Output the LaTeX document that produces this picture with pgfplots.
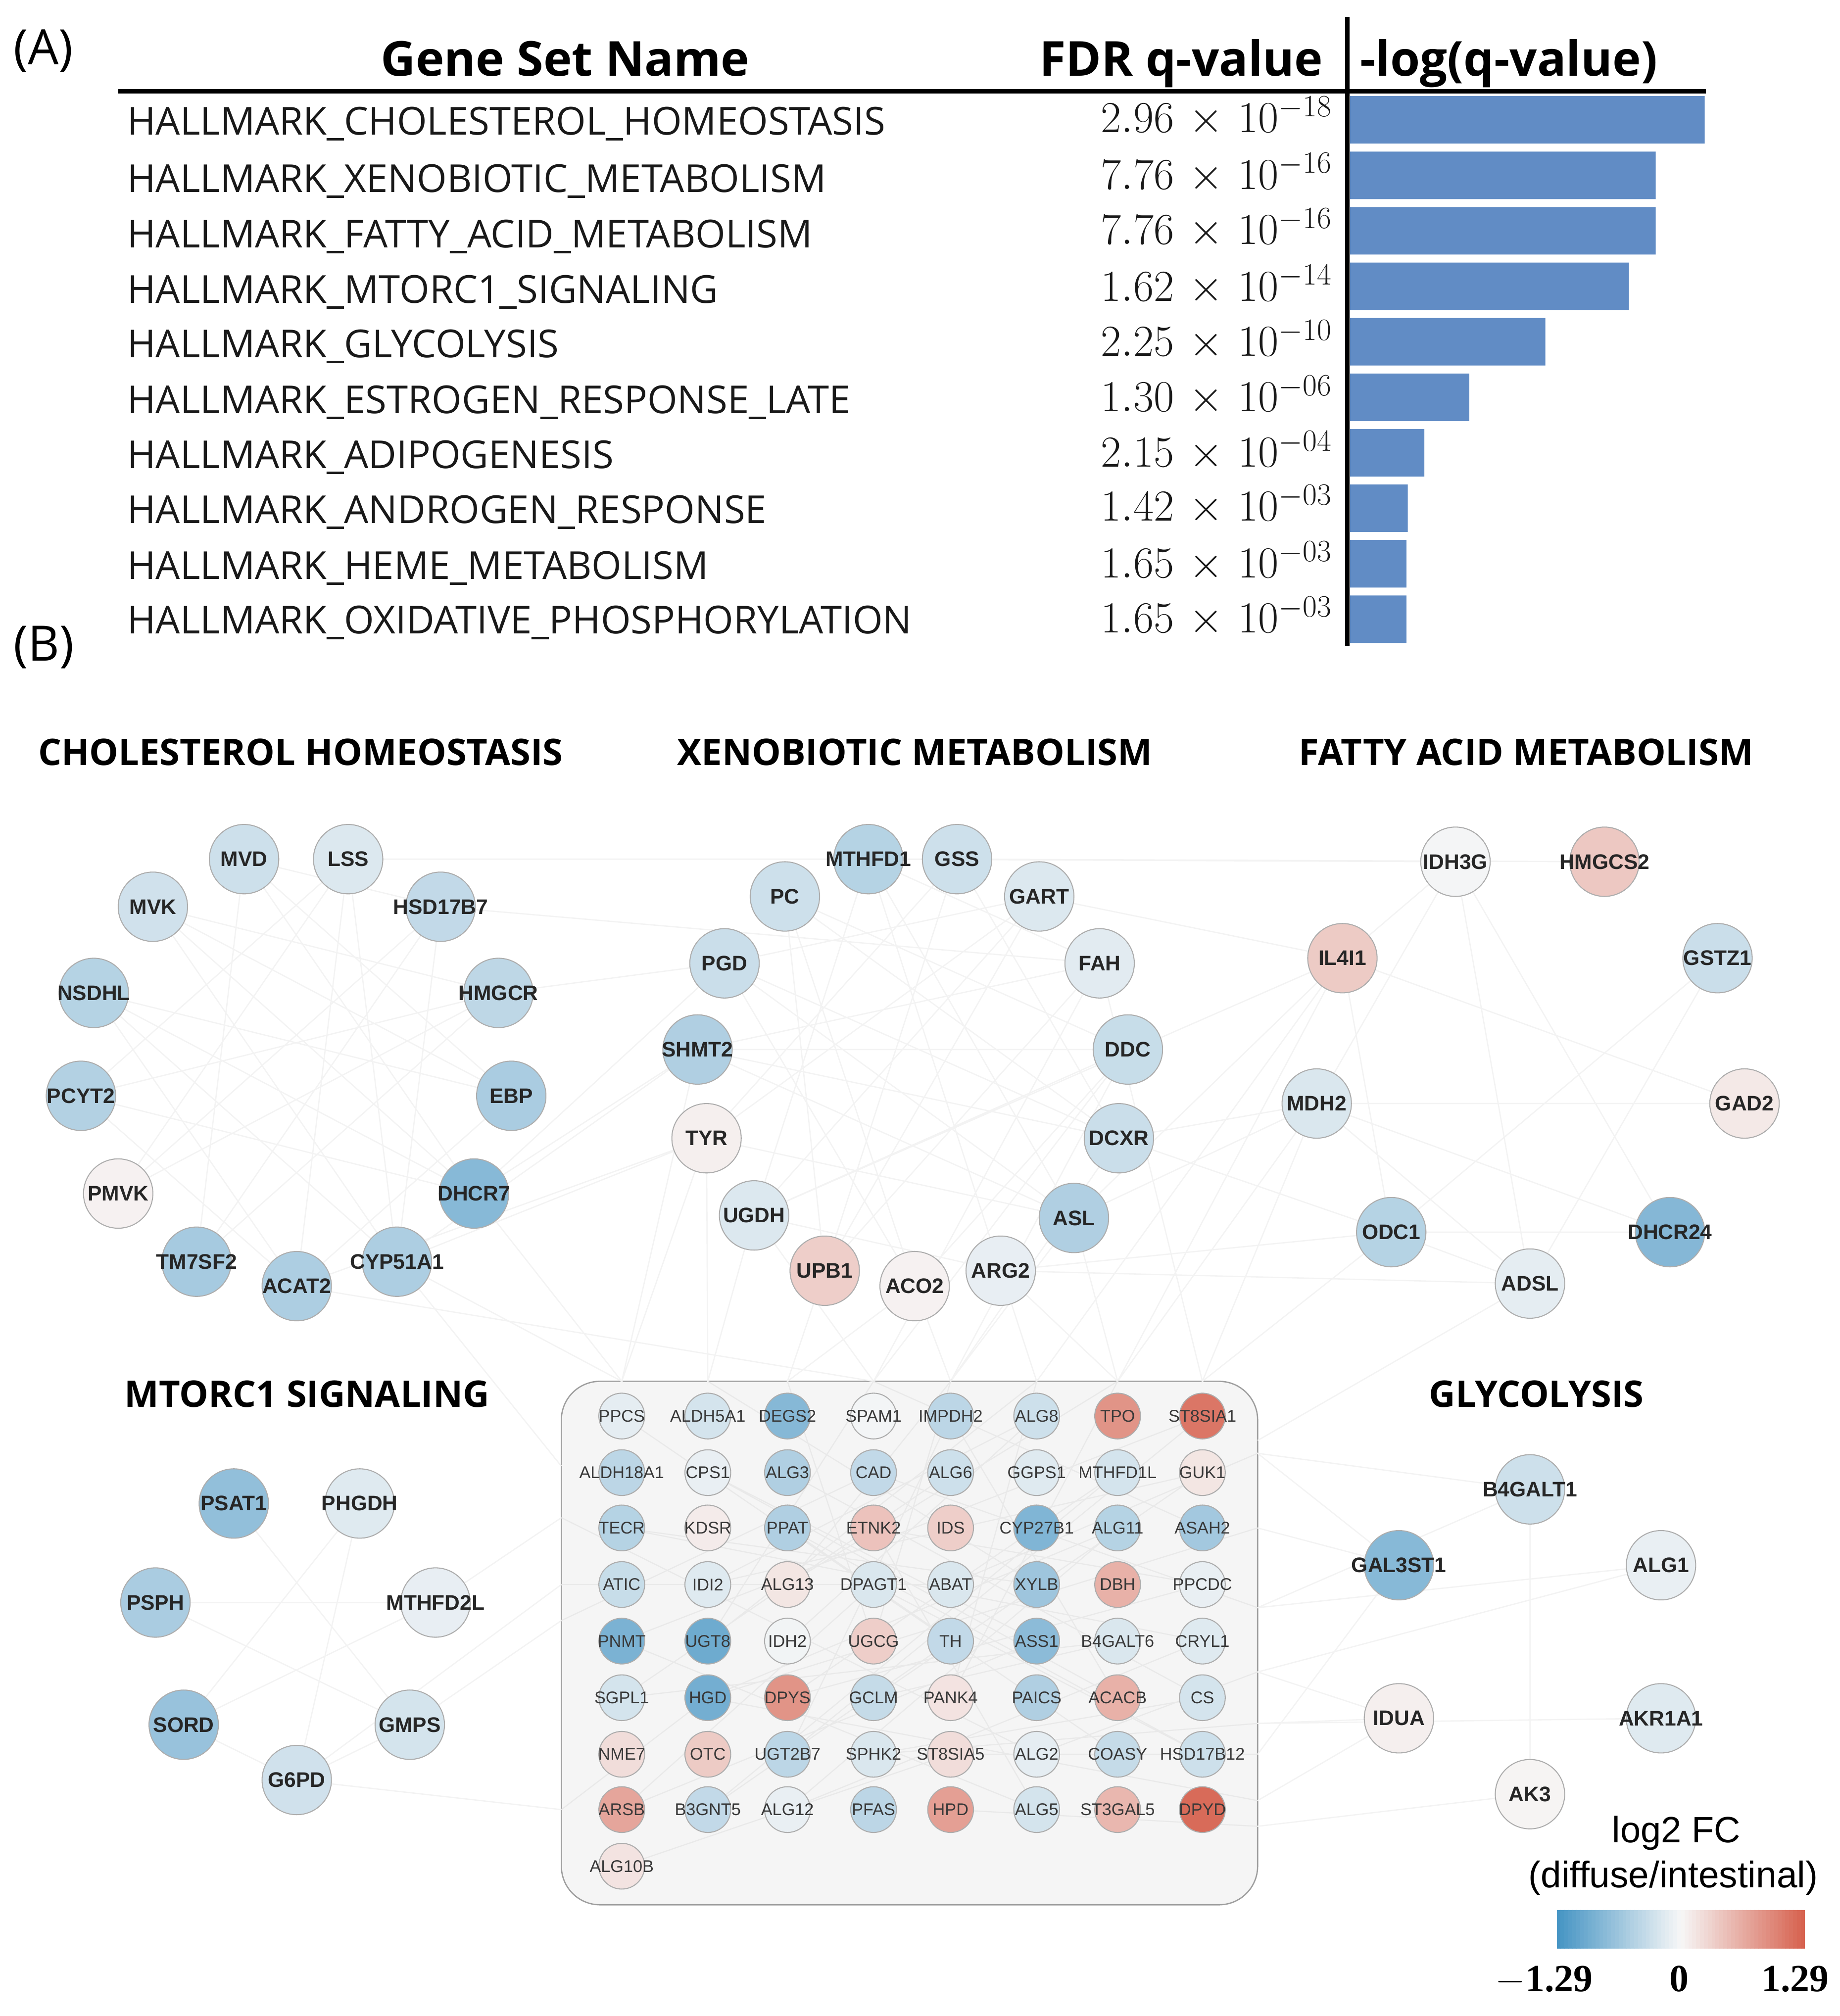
\RequirePackage{fix-cm}
\documentclass[border=0pt]{standalone}
\usepackage{fontspec}
\usepackage{pgfplots}
\usepackage{pgfplotstable}
\pgfplotsset{compat=1.18}
\setmainfont{Open Sans}
\newfontfamily\arialf{Liberation Sans}
\newfontfamily\timesf{Liberation Serif}
\newcommand{\fs}[1]{\fontsize{#1}{#1}\selectfont}
\definecolor{barblue}{RGB}{97,140,197}
\definecolor{edgegray}{RGB}{243,243,243}
\definecolor{boxedge}{RGB}{233,233,233}

% gene sets: row, -log10(q), baselines of the two text columns
\pgfplotstableread{
row logq ya yq name q
0 17.53 104.8 103 HALLMARK\_CHOLESTEROL\_HOMEOSTASIS $2.96\mskip2mu\times\mskip2mu10^{-18}$
1 15.11 149.3 147 HALLMARK\_XENOBIOTIC\_METABOLISM $7.76\mskip2mu\times\mskip2mu10^{-16}$
2 15.11 192.4 190 HALLMARK\_FATTY\_ACID\_METABOLISM $7.76\mskip2mu\times\mskip2mu10^{-16}$
3 13.79 235.6 234 HALLMARK\_MTORC1\_SIGNALING $1.62\mskip2mu\times\mskip2mu10^{-14}$
4 9.65 278.0 277 HALLMARK\_GLYCOLYSIS $2.25\mskip2mu\times\mskip2mu10^{-10}$
5 5.89 321.5 320 HALLMARK\_ESTROGEN\_RESPONSE\_LATE $1.30\mskip2mu\times\mskip2mu10^{-06}$
6 3.67 364.0 363 HALLMARK\_ADIPOGENESIS $2.15\mskip2mu\times\mskip2mu10^{-04}$
7 2.85 406.8 405 HALLMARK\_ANDROGEN\_RESPONSE $1.42\mskip2mu\times\mskip2mu10^{-03}$
8 2.78 450.2 449 HALLMARK\_HEME\_METABOLISM $1.65\mskip2mu\times\mskip2mu10^{-03}$
9 2.78 492.7 492 HALLMARK\_OXIDATIVE\_PHOSPHORYLATION $1.65\mskip2mu\times\mskip2mu10^{-03}$
}\gsets

% outer network nodes
\pgfplotstableread{
x y fc name
190 668 -0.30 MVD
271 668 -0.19 LSS
119 705 -0.28 MVK
343 705 -0.38 HSD17B7
73 772 -0.47 NSDHL
388 772 -0.41 HMGCR
63 852 -0.49 PCYT2
398 852 -0.55 EBP
92 928 0.05 PMVK
369 928 -0.80 DHCR7
153 981 -0.58 TM7SF2
309 981 -0.53 CYP51A1
231 1000 -0.53 ACAT2
676 668 -0.47 MTHFD1
745 668 -0.30 GSS
611 697 -0.30 PC
809 697 -0.19 GART
564 749 -0.32 PGD
856 749 -0.15 FAH
543 816 -0.51 SHMT2
878 816 -0.34 DDC
550 885 0.07 TYR
871 885 -0.32 DCXR
587 945 -0.19 UGDH
836 947 -0.51 ASL
642 988 0.35 UPB1
779 988 -0.11 ARG2
712 1000 0.05 ACO2
1133 670 -0.02 IDH3G
1249 670 0.40 HMGCS2
1045 745 0.38 IL4I1
1337 745 -0.32 GSTZ1
1025 858 -0.21 MDH2
1358 858 0.12 GAD2
1083 958 -0.47 ODC1
1300 958 -0.82 DHCR24
1191 998 -0.13 ADSL
182 1169 -0.72 PSAT1
280 1169 -0.17 PHGDH
121 1246 -0.55 PSPH
339 1246 -0.11 MTHFD2L
143 1341 -0.68 SORD
319 1341 -0.25 GMPS
231 1384 -0.28 G6PD
1191 1158 -0.30 B4GALT1
1089 1217 -0.80 GAL3ST1
1293 1217 -0.10 ALG1
1089 1336 0.07 IDUA
1293 1336 -0.17 AKR1A1
1191 1395 0.03 AK3
}\outer

% nodes inside the box
\pgfplotstableread{
x y fc name
484 1101 -0.13 PPCS
551 1101 -0.25 ALDH5A1
613 1101 -0.81 DEGS2
680 1101 -0.03 SPAM1
740 1101 -0.42 IMPDH2
807 1101 -0.30 ALG8
870 1101 0.85 TPO
936 1101 1.10 ST8SIA1
484 1145 -0.42 ALDH18A1
551 1145 -0.10 CPS1
613 1145 -0.51 ALG3
680 1145 -0.38 CAD
740 1145 -0.30 ALG6
807 1145 -0.17 GGPS1
870 1145 -0.25 MTHFD1L
936 1145 0.15 GUK1
484 1188 -0.47 TECR
551 1188 0.10 KDSR
613 1188 -0.51 PPAT
680 1188 0.45 ETNK2
740 1188 0.35 IDS
807 1188 -0.85 CYP27B1
870 1188 -0.47 ALG11
936 1188 -0.60 ASAH2
484 1232 -0.34 ATIC
551 1232 -0.17 IDI2
613 1232 0.15 ALG13
680 1232 -0.21 DPAGT1
740 1232 -0.21 ABAT
807 1232 -0.64 XYLB
870 1232 0.60 DBH
936 1232 -0.10 PPCDC
484 1276 -0.89 PNMT
551 1276 -0.98 UGT8
613 1276 -0.04 IDH2
680 1276 0.35 UGCG
740 1276 -0.38 TH
807 1276 -0.77 ASS1
870 1276 -0.21 B4GALT6
936 1276 -0.17 CRYL1
484 1320 -0.25 SGPL1
551 1320 -0.94 HGD
613 1320 0.85 DPYS
680 1320 -0.36 GCLM
740 1320 0.17 PANK4
807 1320 -0.51 PAICS
870 1320 0.60 ACACB
936 1320 -0.25 CS
484 1364 0.22 NME7
551 1364 0.38 OTC
613 1364 -0.42 UGT2B7
680 1364 -0.21 SPHK2
740 1364 0.22 ST8SIA5
807 1364 -0.13 ALG2
870 1364 -0.36 COASY
936 1364 -0.30 HSD17B12
484 1407 0.70 ARSB
551 1407 -0.38 B3GNT5
613 1407 -0.10 ALG12
680 1407 -0.42 PFAS
740 1407 0.75 HPD
807 1407 -0.25 ALG5
870 1407 0.55 ST3GAL5
936 1407 1.20 DPYD
484 1451 0.17 ALG10B
}\inner

% faint interaction lines, as chains between node centres
\pgfplotstableread{
x y
190 668
153 981
343 705
92 928
388 772
119 705
309 981
271 668
231 1000
73 772
398 852
190 668
369 928
63 852
271 668
92 928
nan nan
119 705
369 928
73 772
309 981
343 705
153 981
388 772
63 852
231 1000
398 852
119 705
nan nan
190 668
343 705
856 749
676 668
1133 670
nan nan
271 668
745 668
1249 670
nan nan
388 772
564 749
369 928
543 816
309 981
550 885
231 1000
680 1074
nan nan
676 668
587 945
809 697
550 885
745 668
642 988
856 749
543 816
878 816
611 697
871 885
564 749
836 947
676 668
779 988
587 945
878 816
712 1000
611 697
642 988
809 697
564 749
712 1000
nan nan
745 668
871 885
543 816
836 947
550 885
809 697
587 945
1045 745
1133 670
1025 858
1358 858
1045 745
1083 958
1191 998
1133 670
1300 958
1025 858
1191 998
1337 745
1083 958
1300 958
nan nan
809 697
1045 745
836 947
1025 858
871 885
1083 958
779 988
1191 998
nan nan
182 1169
319 1341
121 1246
339 1246
143 1341
280 1169
231 1384
437 1232
nan nan
143 1341
231 1384
319 1341
437 1260
nan nan
339 1246
437 1180
nan nan
642 988
613 1074
712 1000
740 1074
836 947
870 1074
779 988
807 1074
nan nan
543 816
484 1074
550 885
551 1074
587 945
680 1074
nan nan
369 928
484 1074
309 981
437 1140
nan nan
871 885
740 1074
878 816
680 1074
856 749
936 1074
nan nan
1083 958
936 1074
1025 858
870 1074
1045 745
807 1074
nan nan
979 1188
1089 1217
979 1130
1191 1158
979 1250
1293 1217
979 1300
1089 1336
979 1340
1293 1336
nan nan
1191 998
979 1120
nan nan
979 1420
1191 1395
nan nan
979 1364
1089 1217
nan nan
979 1400
1089 1336
nan nan
1191 1158
1191 1395
nan nan
231 1384
437 1407
}\edges

% the lines over the box
\pgfplotstableread{
x y
484 1101
740 1276
551 1407
870 1145
613 1320
936 1232
680 1188
807 1407
484 1276
936 1101
613 1364
740 1101
870 1320
551 1145
807 1276
484 1407
680 1232
936 1364
613 1188
870 1364
nan nan
613 1074
680 1276
740 1074
613 1232
870 1074
740 1320
807 1074
551 1276
680 1074
936 1188
nan nan
551 1074
807 1232
484 1188
936 1276
613 1407
870 1188
551 1320
979 1188
nan nan
437 1232
740 1232
979 1130
nan nan
437 1260
680 1145
979 1250
nan nan
437 1180
807 1364
979 1300
nan nan
484 1451
740 1364
979 1364
nan nan
437 1407
551 1320
979 1400
nan nan
613 1145
936 1320
680 1364
979 1340
nan nan
740 1145
484 1320
870 1276
680 1320
936 1145
551 1232
807 1101
613 1276
nan nan
979 1420
740 1407
}\boxedges

\begin{document}
\begin{tikzpicture}
\useasboundingbox (0,0) rectangle (1432pt,1569.5pt);
\begin{axis}[
    name=net,
    at={(0,0)},anchor=south west,
    width=1432pt,height=1569.5pt,
    scale only axis,
    hide axis,
    clip=false,
    xmin=0,xmax=1432,ymin=0,ymax=1567.5,
    y dir=reverse,
    enlargelimits=false,
    colormap={fcmap}{rgb255=(67,147,195) rgb255=(247,247,247) rgb255=(214,96,77)},
    point meta min=-1.29,point meta max=1.29,
    colorbar horizontal,
    colorbar sampled,
    colorbar style={
        samples=65,
        at={(1212/1432,1-1517/1569.5)},anchor=south west,
        width=193pt,height=30pt,
        xtick=\empty,ytick=\empty,
        axis line style={draw=none},
    },
]
    % box behind the lines
    \draw[rounded corners=30pt,fill=black!4,draw=black!38,line width=1pt]
        (axis cs:437,1074) rectangle (axis cs:979,1481);

    \addplot[edgegray,line width=1pt,unbounded coords=jump,forget plot] table[x=x,y=y] {\edges};
    \addplot[boxedge,line width=0.9pt,unbounded coords=jump,forget plot] table[x=x,y=y] {\boxedges};

    % nodes
    \addplot[scatter,only marks,mark=*,mark size=27pt,line width=0.8pt,
        scatter src=explicit,
        scatter/use mapped color={draw=black!32,fill=mapped color}]
        table[x=x,y=y,meta=fc] {\outer};
    \addplot[scatter,only marks,mark=*,mark size=17.8pt,line width=0.8pt,
        scatter src=explicit,
        scatter/use mapped color={draw=black!32,fill=mapped color}]
        table[x=x,y=y,meta=fc] {\inner};

    % node labels
    \addplot[only marks,mark=none,point meta=explicit symbolic,
        nodes near coords,
        every node near coord/.style={anchor=center,inner sep=0pt,text=black!85,
            font=\arialf\bfseries\fs{16.4}}]
        table[x=x,y=y,meta=name] {\outer};
    \addplot[only marks,mark=none,point meta=explicit symbolic,
        nodes near coords,
        every node near coord/.style={anchor=center,inner sep=0pt,text=black!78,
            font=\arialf\fs{13.2}}]
        table[x=x,y=y,meta=name] {\inner};

    % table text
    \addplot[only marks,mark=none,point meta=explicit symbolic,
        nodes near coords,
        every node near coord/.style={anchor=base west,inner sep=0pt,text=black!90,
            font=\fs{30}}]
        table[x expr=99,y=ya,meta=name] {\gsets};
    \addplot[only marks,mark=none,point meta=explicit symbolic,
        nodes near coords,
        every node near coord/.style={anchor=base east,inner sep=0pt,text=black!90,
            font=\fs{34.5}}]
        table[x expr=1037,y=yq,meta=q] {\gsets};

    % headers and rules
    \draw[line width=3.2pt] (axis cs:92,71) -- (axis cs:1328,71);
    \draw[line width=3.5pt] (axis cs:1049,13) -- (axis cs:1049,502);
    \node[anchor=base,font=\bfseries\fs{37.5}] at (axis cs:440,59) {Gene Set Name};
    \node[anchor=base,font=\bfseries\fs{37.5}] at (axis cs:919.5,59) {FDR q-value};
    \node[anchor=base,font=\bfseries\fs{37.5}] at (axis cs:1174.5,59) {-log(q-value)};
    \node[anchor=base west,font=\fs{38}] at (axis cs:7,50) {(A)};
    \node[anchor=base west,font=\fs{38}] at (axis cs:7,514) {(B)};

    % group titles
    \node[anchor=base,font=\bfseries\fs{28.5}] at (axis cs:234,595) {CHOLESTEROL HOMEOSTASIS};
    \node[anchor=base,font=\bfseries\fs{28.5}] at (axis cs:712,595) {XENOBIOTIC METABOLISM};
    \node[anchor=base,font=\bfseries\fs{28.5}] at (axis cs:1188,595) {FATTY ACID METABOLISM};
    \node[anchor=base,font=\bfseries\fs{28.5}] at (axis cs:239,1094) {MTORC1 SIGNALING};
    \node[anchor=base,font=\bfseries\fs{28.5}] at (axis cs:1196,1094) {GLYCOLYSIS};

    % colour scale text
    \node[anchor=base,font=\arialf\fs{28.5}] at (axis cs:1305,1432.5) {log2 FC};
    \node[anchor=base,font=\arialf\fs{28.8}] at (axis cs:1302.5,1467.5) {(diffuse/intestinal)};
    \node[anchor=base,font=\timesf\bfseries\fs{30}] at (axis cs:1202,1548.5) {$-$1.29};
    \node[anchor=base,font=\timesf\bfseries\fs{30}] at (axis cs:1307,1548.5) {0};
    \node[anchor=base,font=\timesf\bfseries\fs{30}] at (axis cs:1397.5,1548.5) {1.29};
\end{axis}

% bars of -log(q-value)
\begin{axis}[
    at={(1051pt,1065.8pt)},anchor=south west,
    width=276pt,height=432pt,
    scale only axis,
    hide axis,
    y dir=reverse,
    xmin=0,xmax=17.53,ymin=-0.5,ymax=9.5,
]
    \addplot[xbar,bar shift=0pt,bar width=37pt,fill=barblue,draw=none]
        table[x=logq,y=row] {\gsets};
\end{axis}
\end{tikzpicture}
\end{document}
